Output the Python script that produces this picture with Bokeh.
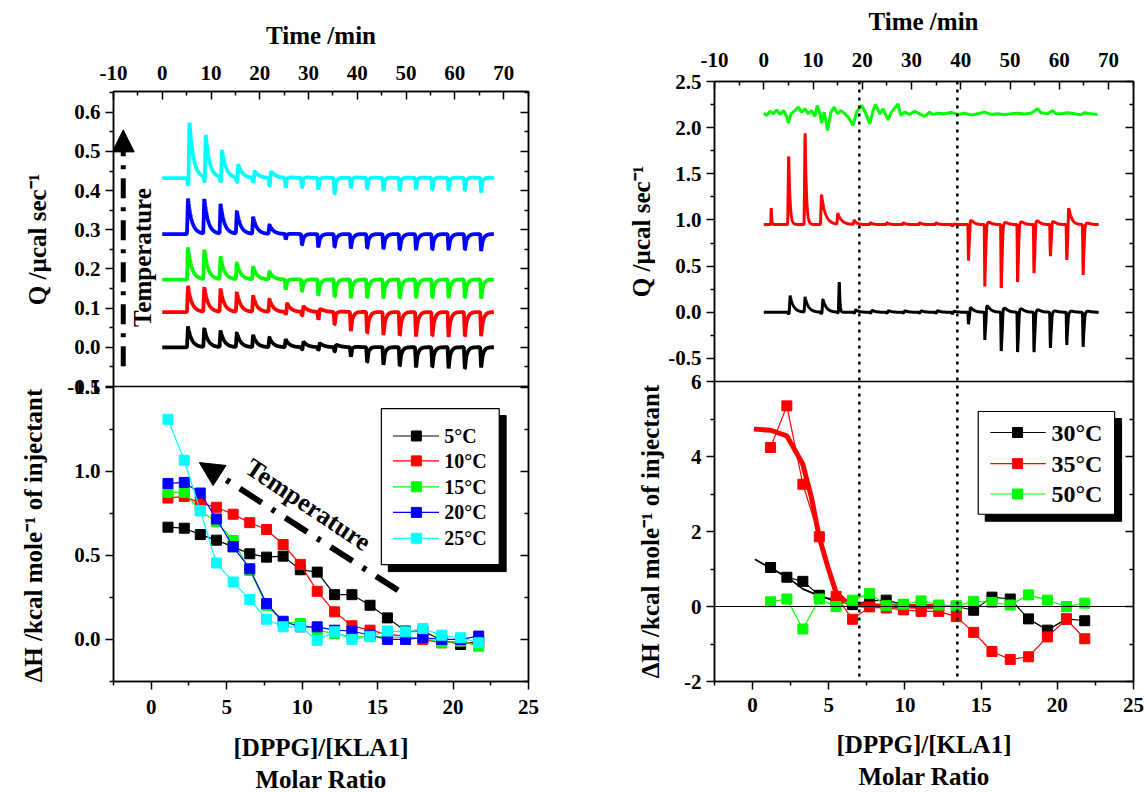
import numpy as np
from bokeh.plotting import figure
from bokeh.layouts import row, column
from bokeh.models import (Range1d, LinearAxis, FixedTicker, PrintfTickFormatter,
                          CustomJSTickFormatter, Span, Arrow, NormalHead, Title, Label)
from bokeh.embed import file_html
from bokeh.resources import INLINE

# ======================= DATA =======================
# --- Left top: raw ITC thermograms, 5..25 °C (time in min, heat in µcal/s)
LT_INJ_T = [5.07, 8.41, 11.75, 15.09, 18.43, 21.77, 25.11, 28.45, 31.79, 35.13,
            38.47, 41.81, 45.15, 48.49, 51.83, 55.17, 58.51, 61.85, 65.19]
LT_LABELS = ["5°C", "10°C", "15°C", "20°C", "25°C"]
LT_BASE = [0.0, 0.09, 0.173, 0.289, 0.432]
Q5_POS = [0.054, 0.049, 0.043, 0.038, 0.032, 0.026, 0.021, 0.018, 0.015, 0.013,
          0.010, 0.010, 0.008, 0.008, 0.008, 0.008, 0.008, 0.008, 0.008]
Q5_NEG = [0, 0, 0, 0, 0, 0, 0, -0.006, -0.008, -0.012,
          -0.025, -0.040, -0.046, -0.050, -0.053, -0.053, -0.055, -0.057, -0.053]
Q10_POS = [0.068, 0.064, 0.060, 0.051, 0.043, 0.034, 0.026, 0.021, 0.018, 0.012,
           0.008, 0.006, 0.006, 0.006, 0.006, 0.006, 0.006, 0.006, 0.006]
Q10_NEG = [0, 0, 0, 0, 0, 0, -0.006, -0.010, -0.020, -0.034,
           -0.050, -0.057, -0.060, -0.063, -0.064, -0.064, -0.065, -0.065, -0.063]
Q15_POS = [0.083, 0.077, 0.059, 0.044, 0.034, 0.021, 0.008, 0.006, 0.006, 0.006,
           0.006, 0.006, 0.006, 0.006, 0.006, 0.006, 0.006, 0.006, 0.006]
Q15_NEG = [0, 0, 0, 0, 0, 0, -0.027, -0.032, -0.042, -0.047,
           -0.049, -0.049, -0.050, -0.050, -0.049, -0.049, -0.049, -0.049, -0.050]
Q20_POS = [0.092, 0.091, 0.077, 0.060, 0.044, 0.024, 0.006, 0.005, 0.005, 0.005,
           0.005, 0.005, 0.005, 0.005, 0.005, 0.005, 0.005, 0.005, 0.005]
Q20_NEG = [0, 0, 0, 0, 0, 0, -0.014, -0.029, -0.035, -0.035,
           -0.038, -0.038, -0.040, -0.042, -0.042, -0.042, -0.042, -0.042, -0.044]
Q25_POS = [0.157, 0.116, 0.079, 0.042, 0.025, 0.029, 0.012, 0.012, 0.012, 0.012,
           0.012, 0.012, 0.012, 0.012, 0.012, 0.012, 0.012, 0.012, 0.012]
Q25_NEG = [-0.020, -0.013, -0.013, -0.013, -0.013, -0.022, -0.026, -0.026, -0.030, -0.043,
           -0.026, -0.030, -0.034, -0.034, -0.030, -0.032, -0.034, -0.034, -0.038]

# --- Left bottom: integrated heats, 5..25 °C
LB_RATIO = [1.11, 2.19, 3.25, 4.32, 5.43, 6.53, 7.64, 8.74, 9.88, 11.0,
            12.15, 13.3, 14.5, 15.65, 16.85, 18.0, 19.25, 20.5, 21.7]
DH5 = [0.667, 0.661, 0.623, 0.590, 0.550, 0.509, 0.489, 0.495, 0.414, 0.400,
       0.266, 0.266, 0.203, 0.128, 0.050, 0.050, -0.005, -0.030, -0.010]
DH10 = [0.840, 0.850, 0.810, 0.785, 0.744, 0.694, 0.653, 0.564, 0.446, 0.286,
        0.164, 0.081, 0.055, 0.030, 0.020, 0.000, -0.020, -0.010, -0.030]
DH15 = [0.874, 0.874, 0.765, 0.700, 0.588, 0.410, 0.203, 0.105, 0.095, 0.055,
        0.035, 0.016, 0.016, 0.016, 0.010, 0.010, -0.020, -0.010, -0.040]
DH20 = [0.927, 0.933, 0.870, 0.716, 0.552, 0.420, 0.213, 0.108, 0.075, 0.075,
        0.055, 0.050, 0.025, 0.000, 0.000, 0.010, 0.000, 0.000, 0.020]
DH25 = [1.308, 1.065, 0.765, 0.454, 0.341, 0.237, 0.120, 0.075, 0.075, -0.005,
        0.045, 0.000, 0.018, 0.050, 0.045, 0.065, 0.025, 0.010, -0.020]

# --- Right top: raw thermograms, 30, 35, 50 °C
RT_INJ_T = [4.86, 8.19, 11.51, 14.84, 18.16, 21.49, 24.81, 28.14, 31.46, 34.79,
            38.11, 41.44, 44.76, 48.09, 51.41, 54.74, 58.06, 61.39, 64.71]
RT_PRE_T = 1.42
RT_LABELS = ["30°C", "35°C", "50°C"]
RT_BASE = [0.0, 0.95]
Q30_POS = [0.184, 0.166, 0.148, 0.365, 0.030, 0.025, 0.020, 0.020, 0.020, 0.020,
           0.015, 0.080, 0.130, 0.120, 0.110, 0.090, 0.060, 0.050, 0.050]
Q30_NEG = [-0.02, 0, -0.02, -0.01, -0.01, -0.01, -0.01, -0.01, -0.01, -0.01,
           -0.02, -0.13, -0.30, -0.46, -0.47, -0.47, -0.42, -0.37, -0.39]
Q35_PRE = 0.18
Q35_POS = [0.80, 1.03, 0.33, 0.12, 0.05, 0.02, 0.02, 0.02, 0.02, 0.02,
           0.01, 0.12, 0.12, 0.12, 0.13, 0.14, 0.10, 0.27, 0.09]
Q35_NEG = [0, 0, 0, 0, 0, 0, 0, 0, 0, 0,
           -0.02, -0.39, -0.67, -0.75, -0.68, -0.57, -0.37, -0.40, -0.57]
Q50_T = [0.0, 0.61, 1.28, 1.96, 2.63, 3.31, 3.98, 4.66, 4.99, 5.53, 6.21, 7.02, 7.69,
         8.37, 9.04, 9.72, 10.39, 10.86, 11.40, 11.74, 12.28, 12.96, 13.63, 14.31,
         14.98, 15.65, 16.33, 17.14, 18.15, 18.83, 19.84, 20.51, 21.52, 22.20, 22.67,
         23.55, 24.22, 25.24, 25.91, 27.26, 27.80, 28.61, 29.62, 30.63, 31.65, 32.66,
         33.67, 34.35, 35.36, 36.71, 38.06, 39.41, 40.76, 42.10, 43.46, 44.80, 46.15,
         47.50, 48.85, 50.20, 51.55, 52.90, 54.25, 55.60, 56.27, 57.63, 58.64, 59.31,
         60.32, 61.67, 63.02, 64.37, 65.05, 66.40, 67.75]
Q50_Q = [2.157, 2.132, 2.179, 2.150, 2.193, 2.143, 2.186, 2.121, 2.049, 2.150, 2.179,
         2.222, 2.168, 2.204, 2.150, 2.186, 2.121, 2.240, 2.150, 2.049, 2.168, 1.970,
         2.168, 2.222, 2.150, 2.186, 2.157, 2.114, 2.024, 2.168, 2.240, 2.179, 2.042,
         2.186, 2.251, 2.150, 2.204, 2.085, 2.168, 2.258, 2.132, 2.168, 2.143, 2.179,
         2.150, 2.121, 2.168, 2.143, 2.157, 2.150, 2.165, 2.143, 2.157, 2.136, 2.150,
         2.168, 2.143, 2.150, 2.139, 2.150, 2.157, 2.147, 2.157, 2.204, 2.161, 2.150,
         2.186, 2.150, 2.150, 2.161, 2.150, 2.139, 2.161, 2.150, 2.143]

# --- Right bottom: integrated heats, 30, 35, 50 °C
RB_RATIO = [1.18, 2.25, 3.30, 4.38, 5.48, 6.56, 7.68, 8.77, 9.90, 11.06,
            12.22, 13.37, 14.51, 15.71, 16.91, 18.11, 19.35, 20.60, 21.80]
DH30 = [1.04, 0.78, 0.67, 0.30, 0.12, 0.05, 0.15, 0.17, 0.05, 0.02,
        0.00, 0.00, -0.10, 0.25, 0.20, -0.33, -0.63, -0.33, -0.38]
DH35 = [4.24, 5.35, 3.26, 1.86, 0.27, -0.34, -0.01, -0.04, -0.09, -0.13,
        -0.13, -0.27, -0.69, -1.20, -1.41, -1.34, -0.81, -0.34, -0.86]
DH50 = [0.125, 0.20, -0.60, 0.20, 0.00, 0.17, 0.35, 0.02, 0.06, 0.15,
        0.04, 0.02, 0.14, 0.11, 0.04, 0.31, 0.17, 0.00, 0.09]
FIT35_X = [0.09, 1.18, 2.25, 3.29, 3.86, 4.38, 4.95, 5.48, 6.04, 6.57, 7.68, 9.86, 12.26]
FIT35_Y = [4.73, 4.70, 4.55, 3.80, 2.91, 1.84, 1.04, 0.37, 0.15, 0.06, 0.02, 0.01, 0.00]
FIT30_X = [0.15, 1.18, 2.25, 3.29, 4.38, 5.48, 6.57, 7.40]
FIT30_Y = [1.26, 1.02, 0.79, 0.47, 0.285, 0.15, 0.09, 0.06]
RT_MARKS_T = [19.4, 39.3]       # dotted markers (time axis), run through both panels

# ======================= STYLE =======================
FONT = "Liberation Serif"
TICK_FS = "21px"
LABEL_FS = "25px"
LT_COLORS = ["black", "#ff0000", "#00ff00", "#0000ff", "#00ffff"]
RT_COLORS = ["black", "#ff0000", "#00ff00"]
SQ = 10

T = np.arange(0.0, 68.0 + 1e-9, 0.04)


def pulse(t, t0, amp, rise, tau):
    out = np.zeros_like(t)
    up = (t >= t0) & (t < t0 + rise)
    out[up] = amp * (t[up] - t0) / rise
    dn = t >= t0 + rise
    out[dn] = amp * np.exp(-(t[dn] - t0 - rise) / tau)
    return out


def thermogram(base, inj_t, pos, neg, tau_p=0.7, tau_n=0.35, rise_n=0.12):
    y = np.full_like(T, base)
    taus = tau_p if isinstance(tau_p, list) else [tau_p] * len(inj_t)
    for ti, P, N, tp in zip(inj_t, pos, neg, taus):
        if N != 0:
            y += pulse(T, ti, N, rise_n, tau_n)
            y += pulse(T, ti + 0.3, P, 0.2, tp)
        else:
            y += pulse(T, ti, P, 0.2, tp)
    return y


def style_axis(ax, major, minor, inward, overrides=None, blank=False, standoff=6,
               label=None, label_standoff=10):
    ax.ticker = FixedTicker(ticks=major, minor_ticks=minor)
    if blank:
        ax.formatter = CustomJSTickFormatter(code="return ''")
        ax.major_label_standoff = 0
    else:
        ax.formatter = PrintfTickFormatter(format="%d")
        ax.major_label_standoff = standoff
    if overrides:
        ax.major_label_overrides = overrides
    ax.axis_line_color = "black"
    ax.axis_line_width = 1.5
    ax.major_tick_line_color = "black"
    ax.major_tick_line_width = 1.5
    ax.minor_tick_line_color = "black"
    ax.minor_tick_line_width = 1.5
    if inward:
        ax.major_tick_in, ax.major_tick_out = 8, 0
        ax.minor_tick_in, ax.minor_tick_out = 4, 0
    else:
        ax.major_tick_in, ax.major_tick_out = 0, 8
        ax.minor_tick_in, ax.minor_tick_out = 0, 4
    ax.major_label_text_font = FONT
    ax.major_label_text_font_style = "bold"
    ax.major_label_text_font_size = TICK_FS
    ax.major_label_text_color = "black"
    if label:
        ax.axis_label = label
        ax.axis_label_text_font = FONT
        ax.axis_label_text_font_style = "bold"
        ax.axis_label_text_font_size = LABEL_FS
        ax.axis_label_text_color = "black"
        ax.axis_label_standoff = label_standoff


def text(p, x, y, s, size, angle=0.0, align="center", rx="default", ry="default"):
    p.add_layout(Label(x=x, y=y, text=s, angle=angle, text_font=FONT,
                       text_font_style="bold", text_font_size=size, text_color="black",
                       text_align=align, text_baseline="middle",
                       x_range_name=rx, y_range_name=ry))


def strip(width, height, texts):
    """Plain canvas holding title texts, in pixel coordinates (y measured from the top)."""
    p = figure(width=width, height=height, x_range=Range1d(0, width),
               y_range=Range1d(height, 0), x_axis_location=None, y_axis_location=None,
               output_backend="svg", toolbar_location=None, frame_align=False,
               min_border=0, min_border_left=0, min_border_right=0,
               min_border_top=0, min_border_bottom=0)
    p.xgrid.visible = False
    p.ygrid.visible = False
    p.outline_line_color = None
    p.background_fill_color = "white"
    p.border_fill_color = "white"
    for cx, cy, s, ang in texts:
        text(p, cx, cy, s, LABEL_FS, angle=ang)
    return p


def legend_box(p, box, dx, dy, rows, x_line, x_mark, x_text, labels, colors, fs):
    kw = dict(x_range_name="ratio", y_range_name="bot")
    l, r, t, b = box
    p.quad(left=[l + dx], right=[r + dx], top=[t + dy], bottom=[b + dy],
           fill_color="black", line_color="black", **kw)
    p.quad(left=[l], right=[r], top=[t], bottom=[b], fill_color="white",
           line_color="black", line_width=1.2, **kw)
    for yy, lab, c in zip(rows, labels, colors):
        p.line([x_line[0], x_line[1]], [yy, yy], line_color=c, line_width=1.2, **kw)
        p.scatter([x_mark], [yy], marker="square", size=SQ, fill_color=c, line_color=c, **kw)
        text(p, x_text, yy, lab, fs, align="left", rx="ratio", ry="bot")


def make_side(width, height, mb, x_time, x_ratio, top_rng, bot_rng):
    """One canvas per side; upper half = thermogram panel, lower half = heat panel."""
    ts, te = top_rng[0] - (top_rng[1] - top_rng[0]), top_rng[1]
    bs, be = bot_rng[0], bot_rng[1] + (bot_rng[1] - bot_rng[0])
    p = figure(width=width, height=height, x_range=Range1d(*x_time), y_range=Range1d(ts, te),
               x_axis_location="above", output_backend="svg", toolbar_location=None,
               frame_align=False,
               min_border_left=mb[0], min_border_right=mb[1],
               min_border_top=mb[2], min_border_bottom=mb[3])
    p.extra_x_ranges = {"ratio": Range1d(*x_ratio)}
    p.extra_y_ranges = {"bot": Range1d(bs, be)}
    p.xgrid.visible = False
    p.ygrid.visible = False
    p.outline_line_color = "black"
    p.outline_line_width = 1.5
    p.background_fill_color = "white"
    p.border_fill_color = "white"

    def to_top(b):
        return round(ts + (b - bs) / (be - bs) * (te - ts), 9)
    p.add_layout(Span(location=top_rng[0], dimension="width", line_color="black", line_width=1.5))
    return p, to_top


def y_ticks(to_top, t_maj, t_min, t_fmt, b_maj, b_min, b_fmt):
    major, over = [], {}
    for v in t_maj:
        major.append(v)
        over[v] = t_fmt % v
    for v in b_maj:
        k = to_top(v)
        major.append(k)
        over[k] = b_fmt % v
    minor = list(t_min) + [to_top(v) for v in b_min]
    return major, minor, over


TIME_MAJ = [-10, 0, 10, 20, 30, 40, 50, 60, 70]
TIME_MIN = [-5, 5, 15, 25, 35, 45, 55, 65, 75]
RATIO_MAJ = [0, 5, 10, 15, 20, 25]
RATIO_MIN = [-2.5, 2.5, 7.5, 12.5, 17.5, 22.5]
BOT = dict(x_range_name="ratio", y_range_name="bot")
V = np.pi / 2

# ======================= LEFT SIDE =======================
TL = strip(55, 792, [(37, 239, "Q /µcal sec⁻¹", V), (33, 535, "ΔH /kcal mole⁻¹ of injectant", V)])
L, l_top = make_side(545, 792, (58, 72, 91, 109), (-10, 75.1), (-2.5, 25), (-0.1, 0.653), (-0.25, 1.503))
style_axis(L.xaxis[0], TIME_MAJ, TIME_MIN, True, standoff=12, label="Time /min", label_standoff=14)
ax = LinearAxis(x_range_name="ratio")
L.add_layout(ax, "below")
style_axis(ax, RATIO_MAJ, RATIO_MIN, False, standoff=10, label="[DPPG]/[KLA1]", label_standoff=17)
maj, mnr, ov = y_ticks(l_top, [-0.1, 0.0, 0.1, 0.2, 0.3, 0.4, 0.5, 0.6],
                       [-0.05, 0.05, 0.15, 0.25, 0.35, 0.45, 0.55, 0.65], "%.1f",
                       [0.0, 0.5, 1.0, 1.5], [-0.25, 0.25, 0.75, 1.25], "%.1f")
style_axis(L.yaxis[0], maj, mnr, False, overrides=ov, standoff=5)
ax = LinearAxis()
L.add_layout(ax, "right")
style_axis(ax, maj, mnr, True, blank=True)
L.add_layout(Title(text="Molar Ratio", align="center", text_font=FONT, text_color="black",
                   text_font_style="bold", text_font_size=LABEL_FS, standoff=0), "below")

for base, pos, neg, c in zip(LT_BASE, [Q5_POS, Q10_POS, Q15_POS, Q20_POS, Q25_POS],
                             [Q5_NEG, Q10_NEG, Q15_NEG, Q20_NEG, Q25_NEG], LT_COLORS):
    L.line(T, thermogram(base, LT_INJ_T, pos, neg, tau_p=0.8, tau_n=0.5, rise_n=0.2),
           line_color=c, line_width=3.8)
L.add_layout(Arrow(end=NormalHead(size=22, fill_color="black", line_color="black"),
                   x_start=-8.0, y_start=-0.048, x_end=-8.0, y_end=0.555,
                   line_width=5, line_dash="20 9 4 9", line_color="black"))
text(L, -4.1, 0.229, "Temperature", "25px", angle=V)

for dh, c in zip([DH5, DH10, DH15, DH20, DH25], LT_COLORS):
    L.line(LB_RATIO, dh, line_color=c, line_width=1.2, **BOT)
    L.scatter(LB_RATIO, dh, marker="square", size=SQ, fill_color=c, line_color=c, **BOT)
L.add_layout(Arrow(end=NormalHead(size=24, fill_color="black", line_color="black"),
                   x_start=16.35, y_start=0.292, x_end=3.19, y_end=1.051,
                   line_width=6, line_dash="26 12 4 12", line_color="black", **BOT))
text(L, 10.4, 0.80, "Temperature", "26px", angle=-0.59, rx="ratio", ry="bot")
legend_box(L, (15.25, 23.06, 1.371, 0.444), 0.46, -0.041,
           [1.209, 1.061, 0.907, 0.755, 0.601], (16.02, 19.07), 17.57, 19.41,
           LT_LABELS, LT_COLORS, "20px")

# ======================= RIGHT SIDE =======================
TR = strip(65, 792, [(41, 231, "Q /µcal sec⁻¹", V), (50, 531, "ΔH /kcal mole⁻¹ of injectant", V)])
TS = strip(482, 34, [(258, 21, "Time /min", 0.0)])
R, r_top = make_side(482, 758, (48, 14, 47, 111), (-10, 75.06), (-2.5, 25), (-0.75, 2.5), (-2, 6))
style_axis(R.xaxis[0], TIME_MAJ, TIME_MIN, True, standoff=15)
ax = LinearAxis(x_range_name="ratio")
R.add_layout(ax, "below")
style_axis(ax, RATIO_MAJ, RATIO_MIN, False, standoff=8, label="[DPPG]/[KLA1]", label_standoff=16)
maj, mnr, ov = y_ticks(r_top, [-0.5, 0.0, 0.5, 1.0, 1.5, 2.0, 2.5],
                       [-0.25, 0.25, 0.75, 1.25, 1.75, 2.25], "%.1f",
                       [-2, 0, 2, 4, 6], [-1, 1, 3, 5], "%d")
style_axis(R.yaxis[0], maj, mnr, False, overrides=ov, standoff=5)
ax = LinearAxis()
R.add_layout(ax, "right")
style_axis(ax, maj, mnr, True, blank=True)
R.add_layout(Title(text="Molar Ratio", align="center", text_font=FONT, text_color="black",
                   text_font_style="bold", text_font_size=LABEL_FS, standoff=0), "below")

R.line(Q50_T, Q50_Q, line_color=RT_COLORS[2], line_width=3)
q35 = thermogram(RT_BASE[1], RT_INJ_T, Q35_POS, Q35_NEG,
                 tau_p=[0.25, 0.25, 0.8, 0.8] + [0.5] * 15, tau_n=0.25)
q35 = q35 + pulse(T, RT_PRE_T, Q35_PRE, 0.1, 0.1)
R.line(T, q35, line_color=RT_COLORS[1], line_width=3)
q30 = thermogram(RT_BASE[0], RT_INJ_T, Q30_POS, Q30_NEG,
                 tau_p=[0.7, 0.7, 0.7, 0.12] + [0.6] * 15, tau_n=0.25)
R.line(T, q30, line_color=RT_COLORS[0], line_width=3)
for m in RT_MARKS_T:
    R.add_layout(Span(location=m, dimension="height", line_color="black",
                      line_width=2.5, line_dash="3 5"))

R.add_layout(Span(location=0, dimension="width", line_color="black", line_width=1.2,
                  y_range_name="bot"))
R.line(RB_RATIO, DH30, line_color=RT_COLORS[0], line_width=1.2, **BOT)
R.scatter(RB_RATIO, DH30, marker="square", size=SQ, fill_color=RT_COLORS[0],
          line_color=RT_COLORS[0], **BOT)
R.line(FIT30_X, FIT30_Y, line_color="black", line_width=1.8, **BOT)
R.line(RB_RATIO, DH35, line_color=RT_COLORS[1], line_width=1.2, **BOT)
R.scatter(RB_RATIO, DH35, marker="square", size=SQ, fill_color=RT_COLORS[1],
          line_color=RT_COLORS[1], **BOT)
R.line(FIT35_X, FIT35_Y, line_color="#ff0000", line_width=5, **BOT)
R.line(RB_RATIO, DH50, line_color=RT_COLORS[2], line_width=1.2, **BOT)
R.scatter(RB_RATIO, DH50, marker="square", size=SQ, fill_color=RT_COLORS[2],
          line_color=RT_COLORS[2], **BOT)
legend_box(R, (14.81, 23.76, 5.20, 2.46), 0.458, -0.187,
           [4.64, 3.81, 3.0], (15.6, 19.24), 17.39, 19.61,
           RT_LABELS, RT_COLORS, "24px")

layout = row(TL, L, TR, column(TS, R, spacing=0), spacing=0)
open("out.html", "w").write(file_html(layout, INLINE, title="ITC"))
